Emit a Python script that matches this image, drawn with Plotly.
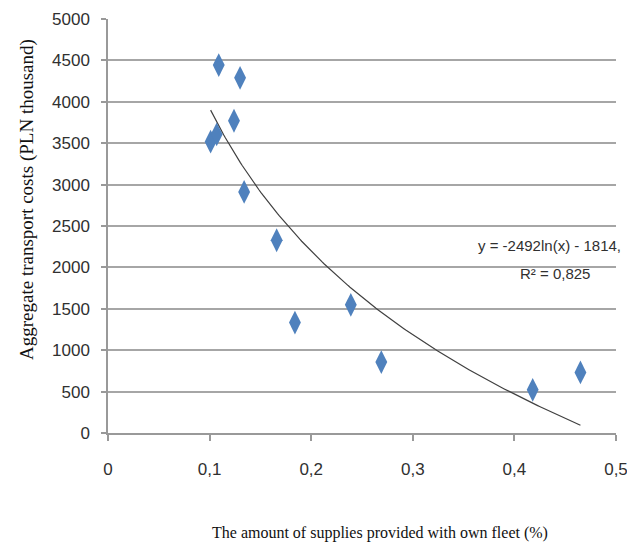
import numpy as np
import plotly.graph_objects as go

# Data
fleet_share = [0.101, 0.107, 0.109, 0.124, 0.130, 0.134, 0.166, 0.184, 0.239, 0.269, 0.418, 0.465]
transport_costs = [3518, 3607, 4443, 3771, 4290, 2911, 2328, 1334, 1548, 856, 522, 731]

# Logarithmic trendline as stated on the chart: y = a*ln(x) + b
trend_a = -2492
trend_b = -1814
trend_label = "y = -2492ln(x) - 1814,"
r2_label = "R² = 0,825"

x_ticks = [0, 0.1, 0.2, 0.3, 0.4, 0.5]
x_tick_text = ["0", "0,1", "0,2", "0,3", "0,4", "0,5"]
y_ticks = list(range(0, 5001, 500))

tx = np.linspace(min(fleet_share), max(fleet_share), 200)
ty = trend_a * np.log(tx) + trend_b

W, H = 627, 550
L, R, T, B = 108, 11, 19, 117
pw, ph = W - L - R, H - T - B

def px(xp):
    return (xp - L) / pw

def py(yp):
    return (H - B - yp) / ph

sans = "Liberation Sans, Arial, sans-serif"
serif = "Liberation Serif, Times New Roman, serif"

fig = go.Figure()
fig.add_trace(go.Scatter(x=tx, y=ty, mode="lines",
                         line=dict(color="#404040", width=1.2),
                         hoverinfo="skip", showlegend=False))
fig.add_trace(go.Scatter(x=fleet_share, y=transport_costs, mode="markers",
                         marker=dict(symbol="diamond-tall", size=17, color="#4F81BD",
                                     line=dict(width=0)),
                         showlegend=False))

fig.update_layout(
    width=W, height=H,
    margin=dict(l=L, r=R, t=T, b=B),
    paper_bgcolor="white", plot_bgcolor="white",
    font=dict(family=sans, size=17, color="#303030"),
    xaxis=dict(range=[0, 0.5], tickvals=x_ticks, ticktext=x_tick_text,
               automargin=False,
               showgrid=False, zeroline=False, showline=True,
               linecolor="#999999", linewidth=1.5,
               ticks="outside", ticklen=6, tickcolor="#999999", tickwidth=1.5,
               ticklabelstandoff=14, ticklabeloverflow="allow",
               tickfont=dict(family=sans, size=17, color="#303030")),
    yaxis=dict(range=[0, 5000], tickvals=y_ticks,
               automargin=False,
               showgrid=True, gridcolor="#A6A6A6", gridwidth=1.5,
               zeroline=False, showline=True,
               linecolor="#999999", linewidth=1.5,
               ticks="outside", ticklen=5, tickcolor="#999999", tickwidth=1.5,
               ticklabelstandoff=8,
               tickfont=dict(family=sans, size=17, color="#303030")),
    annotations=[
        dict(text="Aggregate transport costs (PLN thousand)", xref="paper", yref="paper",
             x=px(27), y=py(200), textangle=-90, showarrow=False,
             xanchor="center", yanchor="middle",
             font=dict(family=serif, size=19, color="#111111")),
        dict(text="The amount of supplies provided with own fleet (%)", xref="paper", yref="paper",
             x=px(380), y=py(533), showarrow=False, xanchor="center", yanchor="middle",
             font=dict(family=serif, size=16, color="#111111")),
        dict(text=trend_label, xref="paper", yref="paper",
             x=px(623), y=py(245), showarrow=False, xanchor="right", yanchor="middle",
             font=dict(family=sans, size=15, color="#303030")),
        dict(text=r2_label, xref="paper", yref="paper",
             x=px(555), y=py(273), showarrow=False, xanchor="center", yanchor="middle",
             font=dict(family=sans, size=15, color="#303030")),
    ],
)

fig.write_html("out.html")
